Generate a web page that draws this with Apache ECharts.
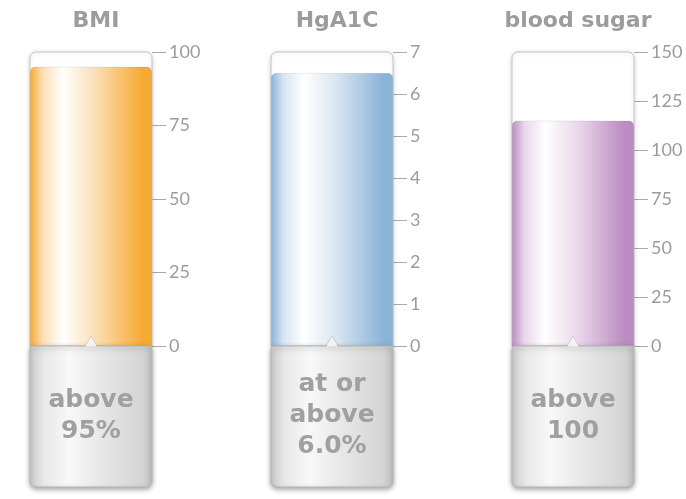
<!DOCTYPE html>
<html>
<head>
<meta charset="utf-8">
<script src="https://cdn.jsdelivr.net/npm/echarts@6/dist/echarts.min.js"></script>
<style>
  html, body { margin: 0; padding: 0; background: #ffffff; }
  #chart { width: 686px; height: 499px; }
</style>
</head>
<body>
<div id="chart"></div>
<script>
// Three gauge tubes: current level, axis range and the risk threshold note
const titles = ['BMI', 'HgA1C', 'blood sugar'];
const values = [95, 6.5, 115];
const axisMax = [100, 7, 150];
const axisStep = [25, 1, 25];
const notes = ['above\n95%', 'at or\nabove\n6.0%', 'above\n100'];
const baseColors = ['#F5AA33', '#8BB3D8', '#BB8CC1'];
const tintColors = ['#FBDDB0', '#D6E4F1', '#E8D6EA'];

const gridLefts = [30, 271, 512];
const gridWidth = 122;
const gridTop = 52;
const gridHeight = 294;
const boxHeight = 141;

const titleFont = 'DejaVu Sans';
const tickFont = 'Lato';

function tubeGradient(i) {
  return new echarts.graphic.LinearGradient(0, 0, 1, 0, [
    { offset: 0, color: baseColors[i] },
    { offset: 0.1, color: tintColors[i] },
    { offset: 0.27, color: '#ffffff' },
    { offset: 0.55, color: tintColors[i] },
    { offset: 0.92, color: baseColors[i] },
    { offset: 1, color: baseColors[i] }
  ]);
}

const boxGradient = new echarts.graphic.LinearGradient(0, 0, 1, 0, [
  { offset: 0, color: '#cbcbcc' },
  { offset: 0.12, color: '#e8e8e9' },
  { offset: 0.32, color: '#f8f8f8' },
  { offset: 0.6, color: '#e6e6e7' },
  { offset: 0.92, color: '#d4d4d5' },
  { offset: 1, color: '#c0c0c1' }
]);

const grids = [], xAxes = [], yAxes = [], series = [], titleList = [];

titles.forEach((t, i) => {
  grids.push({ left: gridLefts[i], top: gridTop, width: gridWidth, height: gridHeight });
  xAxes.push({
    type: 'category', gridIndex: i, data: [t], show: false, boundaryGap: true
  });
  yAxes.push({
    type: 'value', gridIndex: i, position: 'right',
    min: 0, max: axisMax[i], interval: axisStep[i],
    axisLine: { show: false },
    splitLine: { show: false },
    axisTick: { show: true, length: 14, lineStyle: { color: '#aaaaaa', width: 1 } },
    axisLabel: {
      margin: 17, color: '#9c9c9c', fontSize: 18, fontFamily: tickFont, fontWeight: 'normal'
    }
  });
  titleList.push({
    text: t, left: gridLefts[i] + gridWidth / 2, top: 5, textAlign: 'center',
    textStyle: { color: '#9c9c9c', fontSize: 22, fontWeight: 'bold', fontFamily: titleFont }
  });
  series.push({
    type: 'bar', xAxisIndex: i, yAxisIndex: i, data: [values[i]],
    barWidth: '100%',
    showBackground: true,
    backgroundStyle: {
      color: '#ffffff', borderColor: '#c6c6c6', borderWidth: 1,
      borderRadius: [6, 6, 0, 0],
      shadowBlur: 4, shadowColor: 'rgba(0,0,0,0.18)', shadowOffsetY: 1
    },
    itemStyle: {
      color: tubeGradient(i), borderRadius: [5, 5, 0, 0],
      borderColor: 'rgba(0,0,0,0.12)', borderWidth: 0.6
    },
    silent: true, animation: false
  });
  // note box hanging under the zero line, with a small pointer into the tube
  series.push({
    type: 'custom', xAxisIndex: i, yAxisIndex: i, data: [[0, 0]],
    clip: false, silent: true, animation: false, z: 5,
    renderItem: function (params, api) {
      const p = api.coord([api.value(0), 0]);
      const w = api.size([1, 0])[0];
      const x0 = p[0] - w / 2, y0 = p[1];
      return {
        type: 'group',
        children: [
          {
            type: 'rect',
            shape: { x: x0, y: y0, width: w, height: boxHeight, r: [3, 3, 6, 6] },
            style: {
              fill: boxGradient, stroke: '#b5b5b5', lineWidth: 1,
              shadowBlur: 5, shadowOffsetY: 2, shadowColor: 'rgba(0,0,0,0.35)'
            }
          },
          {
            type: 'polygon',
            shape: { points: [[p[0] - 6, y0 + 0.5], [p[0], y0 - 10], [p[0] + 6, y0 + 0.5]] },
            style: { fill: '#f3f3f3' }
          },
          {
            type: 'polyline',
            shape: { points: [[p[0] - 6, y0], [p[0], y0 - 10], [p[0] + 6, y0]] },
            style: { stroke: 'rgba(0,0,0,0.15)', lineWidth: 0.8, fill: null }
          },
          {
            type: 'text',
            style: {
              x: p[0], y: y0 + boxHeight / 2 - 1, text: notes[i],
              align: 'center', verticalAlign: 'middle',
              fill: '#a0a0a1', fontSize: 25, fontWeight: 'bold',
              fontFamily: titleFont, lineHeight: 31
            }
          }
        ]
      };
    }
  });
});

const chart = echarts.init(document.getElementById('chart'), null, { renderer: 'canvas' });
chart.setOption({
  backgroundColor: '#ffffff',
  animation: false,
  title: titleList,
  grid: grids,
  xAxis: xAxes,
  yAxis: yAxes,
  series: series
});
</script>
</body>
</html>
